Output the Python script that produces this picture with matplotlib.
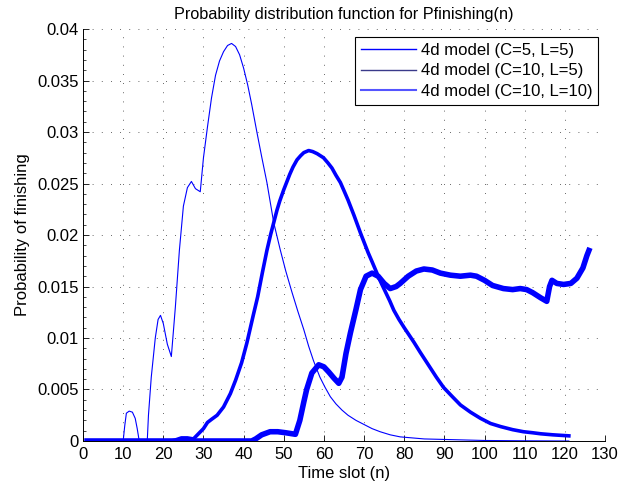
import matplotlib
matplotlib.use("Agg")
import matplotlib.pyplot as plt
from matplotlib.lines import Line2D
from matplotlib.ticker import MultipleLocator

plt.rcParams['font.family'] = ['Liberation Sans', 'DejaVu Sans']

# 4d model (C=5, L=5)
x_c5l5 = [1, 10, 10.4, 10.8, 11.5, 12.3, 13.0, 13.5, 14.0, 16.0, 16.3, 17.0, 18.0, 18.7, 19.3,
          20.0, 21.0, 22.0, 23.0, 24.0, 25.0, 26.0, 27.0, 28.0, 29.2, 30.0, 31.0, 32.0, 33.0,
          34.0, 35.0, 36.0, 37.0, 38.0, 39.0, 40.0, 41.0, 42.0, 43.3, 44.5, 45.8, 47.5, 49.1,
          50.5, 52.0, 53.5, 55.0, 56.2, 57.4, 59.0, 60.3, 61.6, 63.0, 64.5, 66.0, 68.0, 70.0,
          72.0, 74.0, 76.5, 79.0, 82.0, 85.0, 90.0, 100.0, 110.0, 121.0]
y_c5l5 = [0, 0, 0.0015, 0.0027, 0.0029, 0.0028, 0.0022, 0.0012, 0.0, 0.0, 0.0025, 0.0062, 0.0100, 0.0118, 0.0122,
          0.0114, 0.0094, 0.0082, 0.0130, 0.0185, 0.0228, 0.0246, 0.0252, 0.0245, 0.0242, 0.0275, 0.0305, 0.0333, 0.0355,
          0.0369, 0.0378, 0.0384, 0.0386, 0.0383, 0.0375, 0.0362, 0.0346, 0.0327, 0.0300, 0.0276, 0.0251, 0.0212, 0.0186,
          0.0165, 0.0145, 0.0126, 0.0108, 0.0092, 0.0078, 0.0062, 0.0052, 0.0043, 0.0036, 0.0030, 0.0025, 0.0020, 0.0016,
          0.0012, 0.0009, 0.0006, 0.0004, 0.0003, 0.0002, 0.00015, 0.00005, 0.00002, 0.0]

# 4d model (C=10, L=5)
x_c10l5 = [1, 22.0, 23.0, 24.5, 26.0, 27.5, 28.5, 30.0, 31.0, 32.0, 33.4, 35.0, 36.7, 38.0, 39.5,
           40.8, 42.4, 43.5, 44.7, 45.8, 46.7, 47.5, 48.3, 49.0, 50.0, 50.7, 51.5, 52.3, 53.3,
           54.2, 55.0, 56.2, 57.2, 58.3, 59.9, 61.0, 62.0, 63.0, 64.1, 65.0, 66.0, 67.5, 69.1,
           70.0, 71.0, 72.0, 73.2, 74.2, 75.3, 76.4, 77.4, 78.7, 80.0, 81.2, 82.4, 84.0, 86.0,
           88.0, 89.8, 92.0, 94.0, 96.5, 99.0, 101.5, 104.0, 107.0, 109.7, 112.0, 114.0, 117.0, 121.0]
y_c10l5 = [0, 0, 0.0001, 0.0003, 0.0003, 0.0002, 0.0006, 0.0012, 0.0018, 0.0021, 0.0025, 0.0033, 0.0046, 0.0059, 0.0076,
           0.0095, 0.0122, 0.0140, 0.0164, 0.0185, 0.0200, 0.0212, 0.0224, 0.0233, 0.0244, 0.0251, 0.0259, 0.0266, 0.0273,
           0.0277, 0.0280, 0.0282, 0.0281, 0.0279, 0.0275, 0.0270, 0.0265, 0.0258, 0.0251, 0.0243, 0.0234, 0.0219, 0.0202,
           0.0193, 0.0183, 0.0174, 0.0163, 0.0154, 0.0145, 0.0136, 0.0127, 0.0118, 0.0110, 0.0103, 0.0096, 0.0086, 0.0074,
           0.0062, 0.0052, 0.0043, 0.0035, 0.0028, 0.0022, 0.0017, 0.0014, 0.0011, 0.0009, 0.0008, 0.0007, 0.0006, 0.0005]

# 4d model (C=10, L=10)
x_c10l10 = [1, 42.0, 43.0, 44.5, 46.6, 48.5, 50.5, 52.9, 54.0, 55.0, 55.7, 57.0, 58.7, 60.0, 61.2,
            62.5, 63.7, 64.5, 65.5, 66.6, 68.0, 69.1, 70.5, 72.0, 73.5, 75.0, 76.5, 78.0, 79.0,
            81.0, 83.0, 84.9, 87.0, 89.0, 91.5, 94.0, 96.5, 98.0, 100.0, 102.0, 104.7, 107.0, 108.9,
            110.5, 112.0, 114.0, 115.5, 116.2, 116.8, 118.0, 119.7, 121.5, 123.0, 124.5, 125.5, 126.0]
y_c10l10 = [0, 0, 0.0002, 0.0006, 0.0009, 0.0009, 0.0008, 0.00065, 0.0020, 0.0038, 0.0050, 0.0066, 0.0074, 0.0072, 0.0067,
            0.0061, 0.0056, 0.0062, 0.0085, 0.0105, 0.0128, 0.0147, 0.0160, 0.0163, 0.0160, 0.0153, 0.0148, 0.0150, 0.0153,
            0.0160, 0.0165, 0.0167, 0.0166, 0.0163, 0.0161, 0.0160, 0.0161, 0.0160, 0.0156, 0.0151, 0.0148, 0.0147, 0.0148,
            0.0147, 0.0144, 0.0139, 0.01356, 0.0150, 0.0156, 0.0153, 0.0152, 0.0153, 0.0158, 0.0168, 0.0180, 0.0185]

labels = ["4d model (C=5, L=5)", "4d model (C=10, L=5)", "4d model (C=10, L=10)"]
y_ticks = [0, 0.005, 0.01, 0.015, 0.02, 0.025, 0.03, 0.035, 0.04]
y_ticklabels = ['0', '0.005', '0.01', '0.015', '0.02', '0.025', '0.03', '0.035', '0.04']

fig = plt.figure(figsize=(6.41, 4.86), dpi=100)
ax = fig.add_axes([0.1295, 0.0926, 0.8143, 0.8477])

ax.plot(x_c5l5, y_c5l5, color='#0000ff', lw=0.8)
ax.plot(x_c10l5, y_c10l5, color='#0000ff', lw=2.6)
ax.plot(x_c10l10, y_c10l10, color='#0000ff', lw=4.0)

ax.set_xlim(0, 130)
ax.set_ylim(0, 0.04)
ax.xaxis.set_major_locator(MultipleLocator(10))
ax.set_yticks(y_ticks)
ax.set_yticklabels(y_ticklabels)
ax.yaxis.set_minor_locator(MultipleLocator(0.001))

ax.grid(True, which='major', color='#333333', linestyle=(0, (1, 10)), lw=0.6)
ax.spines['top'].set_visible(False)
ax.spines['right'].set_visible(False)
ax.spines['left'].set_linewidth(0.7)
ax.spines['bottom'].set_linewidth(0.7)
ax.tick_params(which='major', direction='in', length=4, width=0.6, labelsize=12, pad=3)
ax.tick_params(axis='x', which='major', pad=4)
ax.tick_params(which='minor', direction='in', length=2, width=0.5)

ax.set_title("Probability distribution function for Pfinishing(n)", fontsize=11.7, pad=7)
ax.set_xlabel("Time slot (n)", fontsize=12, labelpad=3)
ax.set_ylabel("Probability of finishing", fontsize=12, labelpad=5)

handles = [Line2D([], [], color='#0000ff', lw=1.0),
           Line2D([], [], color='#3a3a8a', lw=1.0),
           Line2D([], [], color='#5555ff', lw=1.5)]
leg = ax.legend(handles, labels, loc='upper right', bbox_to_anchor=(0.987, 0.98),
                fontsize=12, fancybox=False, framealpha=1, edgecolor='black',
                handlelength=3.3, handletextpad=0.3, borderpad=0.35, labelspacing=0.32,
                borderaxespad=0)
leg.get_frame().set_linewidth(0.8)

fig.savefig("out.png", dpi=100)
